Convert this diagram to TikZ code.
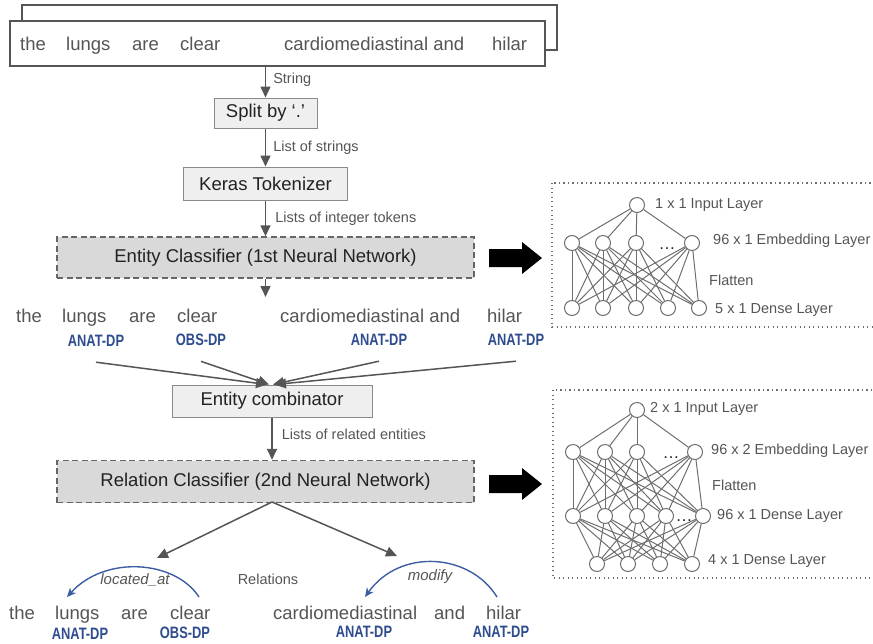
\documentclass[tikz,border=0pt]{standalone}
\usepackage{fontspec}
\setmainfont{Liberation Sans}
\newfontfamily\tagfont[FakeStretch=0.78]{Liberation Sans}
\usetikzlibrary{arrows.meta}

\definecolor{inkgray}{HTML}{555555}
\definecolor{boxtext}{HTML}{222222}
\definecolor{boxline}{HTML}{8A8A8A}
\definecolor{boxfill}{HTML}{EFEFEF}
\definecolor{clsfill}{HTML}{D9D9D9}
\definecolor{clsline}{HTML}{666666}
\definecolor{tagblue}{HTML}{2E4C8E}
\definecolor{arcblue}{HTML}{3D5DA3}
\definecolor{nngray}{HTML}{6E6E6E}

\tikzset{
  word/.style={inner sep=0pt, anchor=base west, text=inkgray, font=\fontsize{18.5}{20}\selectfont},
  tag/.style={inner sep=0pt, anchor=base, text=tagblue, font=\tagfont\bfseries\fontsize{16.5}{18}\selectfont},
  lbl/.style={inner sep=0pt, anchor=west, text=inkgray, font=\fontsize{14.5}{16}\selectfont},
  procbox/.style={draw=boxline, fill=boxfill, line width=1pt, inner sep=0pt, text=boxtext, font=\fontsize{18.5}{20}\selectfont},
  clsbox/.style={procbox, draw=clsline, fill=clsfill, line width=1.4pt, dash pattern=on 6pt off 3.5pt},
  flow/.style={draw=inkgray, line width=1.5pt, -{Triangle[length=11pt,width=10pt]}},
  relarc/.style={draw=arcblue, line width=1.4pt, -{Stealth[length=9pt,width=8pt,inset=2.5pt]}},
  arclbl/.style={inner sep=0pt, text=inkgray, font=\itshape\fontsize{15}{16}\selectfont},
  dotbox/.style={draw=nngray, line width=1.3pt, dash pattern=on 1.3pt off 3.2pt},
  neuron/.style={circle, draw=nngray, fill=white, line width=1pt, minimum size=15pt, inner sep=0pt},
  nnlink/.style={draw=nngray, line width=1pt},
  nndots/.style={inner sep=0pt, anchor=base, text=boxtext, font=\fontsize{17}{18}\selectfont}
}

\begin{document}
\begin{tikzpicture}[x=1pt, y=-1pt]
  \useasboundingbox (0,0) rectangle (873,643);

  \node[draw=inkgray, line width=1.2pt, fill=white, minimum width=535pt, minimum height=45pt] (sentback) at (289.5,27.5) {};
  \node[draw=inkgray, line width=1.2pt, fill=white, minimum width=535pt, minimum height=45pt] (sent) at (277.5,43.5) {};
  \foreach \x/\w [count=\i] in {20/the, 66/lungs, 132/are, 180/clear, 284/cardiomediastinal and, 492/hilar}
    \node[word] (in\i) at (\x,50) {\w};

  \node[procbox, minimum width=103pt, minimum height=30pt] (split) at (265.5,113) {Split by ‘.’};
  \node[procbox, minimum width=164pt, minimum height=33pt] (keras) at (265.5,183.5) {Keras Tokenizer};
  \node[clsbox, minimum width=417pt, minimum height=41pt] (entcls) at (265.5,257.5) {Entity Classifier (1st Neural Network)};

  \draw[flow] (sent.south -| split.north) -- node[lbl, xshift=7pt, yshift=2pt] {String} (split.north);
  \draw[flow] (split.south) -- node[lbl, xshift=7pt] {List of strings} (keras.north);
  \draw[flow] (keras.south) -- node[lbl, xshift=9pt] {Lists of integer tokens} (entcls.north);

  \coordinate (entout) at (265.5,297);
  \draw[flow] (entcls.south) -- (entout);

  \foreach \x/\w [count=\i] in {16/the, 62/lungs, 129/are, 177/clear, 280/cardiomediastinal and, 487/hilar}
    \node[word] (ew\i) at (\x,322) {\w};
  \foreach \x/\y/\t [count=\i] in {96/346/ANAT-DP, 201/345/OBS-DP, 379/345/ANAT-DP, 516/345/ANAT-DP}
    \node[tag] (et\i) at (\x,\y) {\t};

  \node[procbox, minimum width=200pt, minimum height=32pt] (comb) at (272,401) {Entity combinator};
  \node[clsbox, minimum width=417pt, minimum height=42pt] (relcls) at (265.5,481.5) {Relation Classifier (2nd Neural Network)};

  \foreach \i/\s in {1/-5, 2/-3, 3/1, 4/3}
    \draw[flow] ([yshift=-16pt]et\i.south) -- ([xshift=\s pt]comb.north);
  \draw[flow] (comb.south) -- node[lbl, pos=0.4, xshift=9pt] {Lists of related entities} (comb.south |- relcls.north);

  \coordinate (relfork) at (272,502);
  \coordinate (relleft) at (157,558);
  \coordinate (relright) at (397,556);
  \draw[flow] (relfork) -- (relleft);
  \draw[flow] (relfork) -- (relright);
  \node[lbl, anchor=center] (rellbl) at (268,579) {Relations};

  \foreach \x/\w [count=\i] in {9/the, 55/lungs, 121/are, 170/clear, 273/cardiomediastinal, 434/and, 486/hilar}
    \node[word] (rw\i) at (\x,619) {\w};
  \foreach \x/\y/\t [count=\i] in {80/639/ANAT-DP, 185/638/OBS-DP, 364/637/ANAT-DP, 501/637/ANAT-DP}
    \node[tag] (rt\i) at (\x,\y) {\t};

  \coordinate (locfrom) at (199,597);
  \coordinate (locto) at (67,597);
  \draw[relarc] (locfrom) .. controls (175,560) and (105,555) .. (locto);
  \node[arclbl] (loclbl) at (135,580) {located\_at};
  \coordinate (modfrom) at (497,597);
  \coordinate (modto) at (365,597);
  \draw[relarc] (modfrom) .. controls (470,553) and (400,548) .. (modto);
  \node[arclbl] (modlbl) at (430,577) {modify};

  \foreach \y in {258, 484}
    \fill (489,\y-9) -- (522,\y-9) -- (522,\y-16) -- (542,\y) -- (522,\y+16) -- (522,\y+9) -- (489,\y+9) -- cycle;

  \draw[dotbox] (552,183) rectangle (880,327);
  \node[neuron] (a0) at (637,205) {};
  \foreach \x [count=\i] in {572,603,636,692}
    \node[neuron] (ae\i) at (\x,243) {};
  \foreach \x [count=\i] in {572,603,636,668,699}
    \node[neuron] (ad\i) at (\x,308) {};
  \foreach \i in {1,...,4} {
    \draw[nnlink] (a0) -- (ae\i);
    \foreach \j in {1,...,5}
      \draw[nnlink] (ae\i) -- (ad\j);
  }
  \node[nndots] (aedots) at (667,249) {\dots};
  \node[lbl] (a0lbl) at (655,205) {1 x 1 Input Layer};
  \node[lbl] (aelbl) at (713,241) {96 x 1 Embedding Layer};
  \node[lbl] (aflat) at (709,280) {Flatten};
  \node[lbl] (adlbl) at (715,310) {5 x 1 Dense Layer};

  \draw[dotbox] (553,390) rectangle (880,578);
  \node[neuron] (b0) at (637,410) {};
  \foreach \x [count=\i] in {573,605,637,695}
    \node[neuron] (be\i) at (\x,452) {};
  \foreach \x [count=\i] in {573,605,637,666,703}
    \node[neuron] (bd\i) at (\x,516) {};
  \foreach \x [count=\i] in {597,628,660,692}
    \node[neuron] (bo\i) at (\x,564) {};
  \foreach \i in {1,...,4} {
    \draw[nnlink] (b0) -- (be\i);
    \foreach \j in {1,...,5}
      \draw[nnlink] (be\i) -- (bd\j);
  }
  \foreach \i in {1,...,5}
    \foreach \j in {1,...,4}
      \draw[nnlink] (bd\i) -- (bo\j);
  \node[nndots] (bedots) at (671,458) {\dots};
  \node[nndots] (bddots) at (684,521) {\dots};
  \node[lbl] (b0lbl) at (650,409) {2 x 1 Input Layer};
  \node[lbl] (belbl) at (711,451) {96 x 2 Embedding Layer};
  \node[lbl] (bflat) at (712,485) {Flatten};
  \node[lbl] (bdlbl) at (717,516) {96 x 1 Dense Layer};
  \node[lbl] (bolbl) at (708,561) {4 x 1 Dense Layer};
\end{tikzpicture}
\end{document}
